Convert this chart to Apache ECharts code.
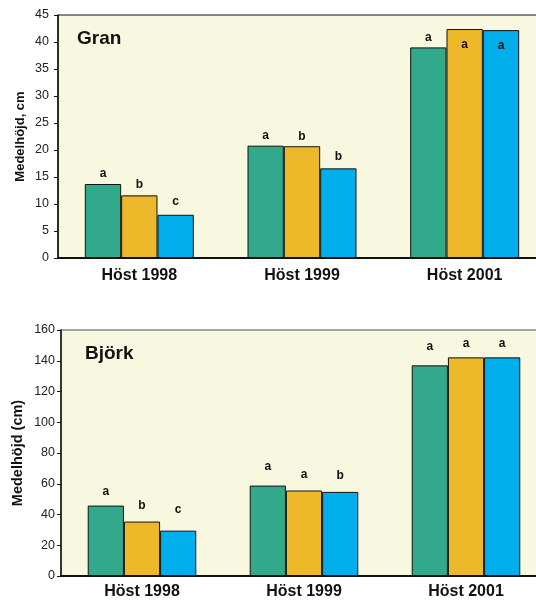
<!DOCTYPE html>
<html><head><meta charset="utf-8">
<script src="https://cdn.jsdelivr.net/npm/echarts@6/dist/echarts.min.js"></script>
<style>html,body{margin:0;padding:0;background:#fff;overflow:hidden}#c{width:560px;height:600px}</style>
</head><body><div id="c"></div>
<script>
const categories = ['Höst 1998', 'Höst 1999', 'Höst 2001'];
const granA = [13.7, 20.8, 39.0];
const granB = [11.6, 20.7, 42.4];
const granC = [8.0, 16.6, 42.2];
const granLetters = [['a','a','a'], ['b','b','a'], ['c','b','a']];
const bjorkA = [45.8, 58.8, 137.0];
const bjorkB = [35.4, 55.6, 142.2];
const bjorkC = [29.5, 54.7, 142.2];
const bjorkLetters = [['a','a','a'], ['b','a','a'], ['c','b','a']];
const granTicks = [0,5,10,15,20,25,30,35,40,45];
const bjorkTicks = [0,20,40,60,80,100,120,140,160];

const colors = ['#33A98C', '#EDB92B', '#00AEEB'];
const FONT = 'Liberation Sans, Arial, sans-serif';
// label placement style (not data)
const insideSet = {'0-1-2': true, '0-2-2': true};
const granDist = [[4,4,4],[5,4,5],[7,6,5]];
const bjorkDist = [[8,13,13],[10,10,8],[15,10,8]];

function mkSeries(gi, arrs, letters, dists) {
  return arrs.map((vals, si) => ({
    type: 'bar', xAxisIndex: gi, yAxisIndex: gi,
    barGap: '0%', barCategoryGap: '33%',
    itemStyle: {color: colors[si], borderColor: '#111', borderWidth: 1},
    data: vals.map((v, ci) => {
      const inside = insideSet[gi + '-' + si + '-' + ci];
      return {
        value: v,
        label: {
          show: true, formatter: letters[si][ci],
          position: inside ? 'insideTop' : 'top',
          distance: inside ? 10 : dists[si][ci],
          fontFamily: FONT, fontWeight: 'bold', fontSize: 12, color: '#111'
        }
      };
    })
  }));
}

const chart = echarts.init(document.getElementById('c'), null, {renderer: 'canvas'});
const yBase = (ticks, name, gap, nameSize, margin) => ({
  type: 'value', min: ticks[0], max: ticks[ticks.length-1], interval: ticks[1]-ticks[0],
  name: name, nameLocation: 'middle', nameGap: gap, nameRotate: 90, nameMoveOverlap: false,
  nameTextStyle: {fontFamily: FONT, fontWeight: 'bold', fontSize: nameSize, color: '#111'},
  axisLine: {show: true, lineStyle: {color: '#111', width: 1.5}},
  axisTick: {show: true, length: 4, lineStyle: {color: '#111'}},
  axisLabel: {fontFamily: FONT, fontSize: 12.5, color: '#222', margin: margin},
  splitLine: {show: false}
});
const xBase = (gi, margin) => ({
  type: 'category', gridIndex: gi, data: categories,
  axisLine: {show: true, lineStyle: {color: '#111', width: 2}},
  axisTick: {show: false},
  axisLabel: {fontFamily: FONT, fontWeight: 'bold', fontSize: 16, color: '#111', margin: margin}
});
chart.setOption({
  animation: false,
  title: [
    {text: 'Gran', left: 72, top: 24, textStyle: {fontFamily: FONT, fontWeight: 'bold', fontSize: 19, color: '#111'}},
    {text: 'Björk', left: 80, top: 339, textStyle: {fontFamily: FONT, fontWeight: 'bold', fontSize: 19, color: '#111'}}
  ],
  grid: [
    {left: 58, top: 15, width: 488, height: 243, show: true, backgroundColor: '#F8F7E0', borderColor: '#111', borderWidth: 1},
    {left: 61, top: 330, width: 486, height: 246, show: true, backgroundColor: '#F8F7E0', borderColor: '#888', borderWidth: 1.5}
  ],
  xAxis: [xBase(0, 10), xBase(1, 8)],
  yAxis: [
    Object.assign(yBase(granTicks, 'Medelhöjd, cm', 31, 13, 9), {gridIndex: 0}),
    Object.assign(yBase(bjorkTicks, 'Medelhöjd (cm)', 36, 14.5, 6), {gridIndex: 1})
  ],
  series: [
    ...mkSeries(0, [granA, granB, granC], granLetters, granDist),
    ...mkSeries(1, [bjorkA, bjorkB, bjorkC], bjorkLetters, bjorkDist)
  ]
});
</script></body></html>
